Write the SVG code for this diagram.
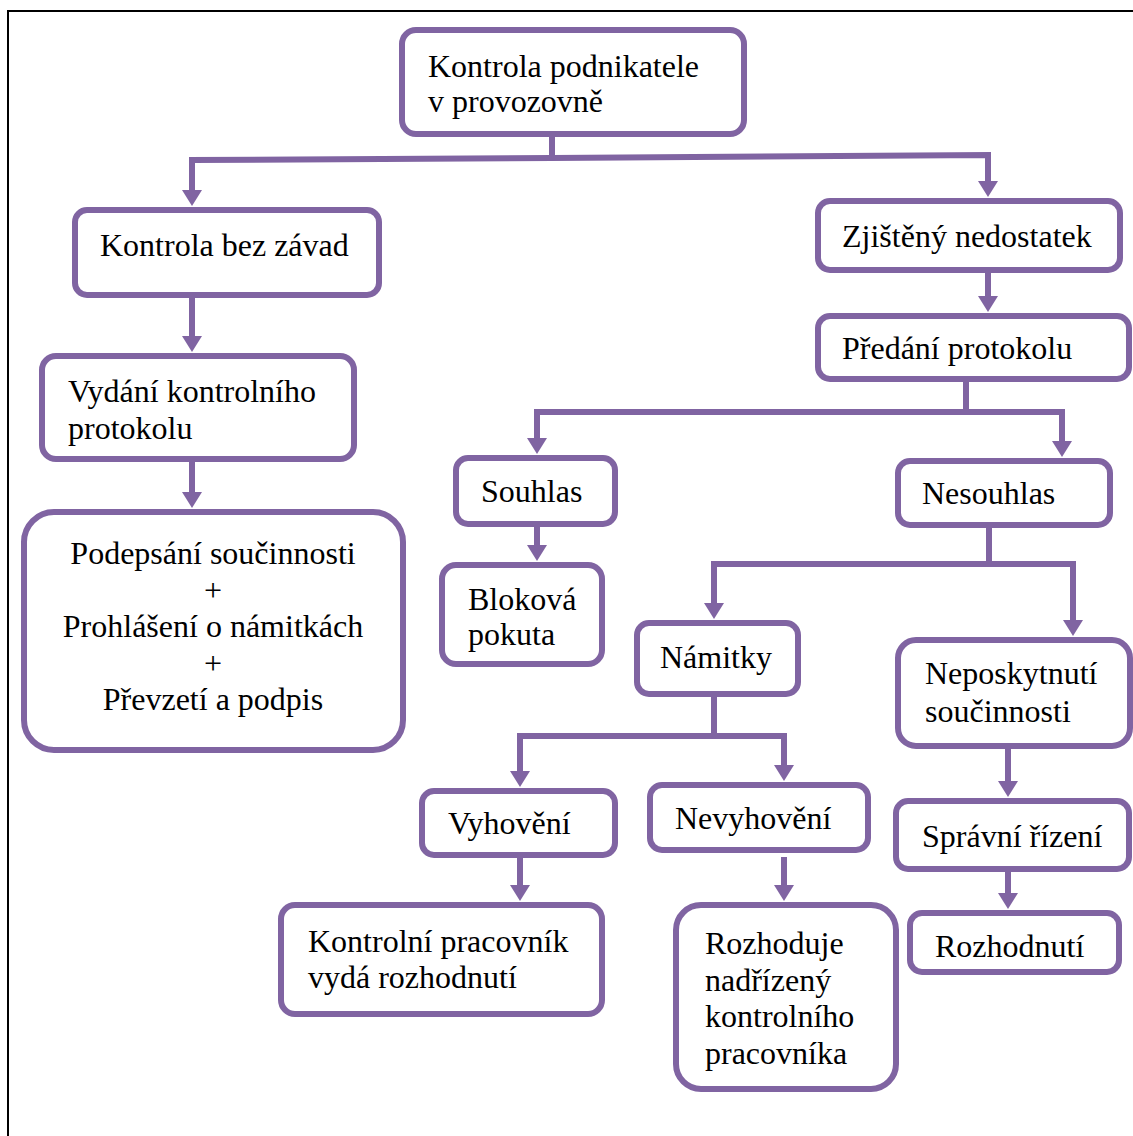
<svg xmlns="http://www.w3.org/2000/svg" width="1133" height="1136" viewBox="0 0 1133 1136">
<style>
.box{fill:#fff;stroke:#8064A2;stroke-width:6}
.t{font-family:"Liberation Serif","Times New Roman",serif;font-size:32px;fill:#000}
.c{fill:none;stroke:#8064A2;stroke-width:6;stroke-linejoin:miter}
.a{marker-end:url(#ah)}
</style>
<defs>
<marker id="ah" markerUnits="userSpaceOnUse" viewBox="0 0 16 20" markerWidth="16" markerHeight="20" refX="1" refY="10" orient="auto" overflow="visible">
<path d="M0,0 L16,10 L0,20 z" fill="#8064A2"/>
</marker>
</defs>
<rect width="1133" height="1136" fill="#fff"/>
<rect x="8" y="11" width="1140" height="1140" fill="none" stroke="#000" stroke-width="2"/>
<g id="connectors">
<path class="c" d="M552,137 V158"/>
<path class="c a" d="M552,158 L192,160 V191"/>
<path class="c a" d="M552,158 L988,155 V182"/>
<path class="c a" d="M192,298 V337"/>
<path class="c a" d="M192,462 V493"/>
<path class="c a" d="M988,273 V297"/>
<path class="c" d="M966,382 V412"/>
<path class="c a" d="M966,412 H537 V439"/>
<path class="c a" d="M966,412 H1062 V442"/>
<path class="c a" d="M537,527 V546"/>
<path class="c" d="M989,528 V564"/>
<path class="c a" d="M989,564 H714 V604"/>
<path class="c a" d="M989,564 H1073 V621"/>
<path class="c" d="M714,697 V736"/>
<path class="c a" d="M714,736 H520 V772"/>
<path class="c a" d="M714,736 H784 V766"/>
<path class="c a" d="M520,858 V886"/>
<path class="c a" d="M784,857 V886"/>
<path class="c a" d="M1008,749 V782"/>
<path class="c a" d="M1008,872 V894"/>
</g>
<g id="n-kontrola-podnikatele">
<rect class="box" x="402" y="30" width="342" height="104" rx="14"/>
<text class="t" x="428" y="77">Kontrola podnikatele</text>
<text class="t" x="428" y="112">v provozovně</text>
</g>
<g id="n-bez-zavad">
<rect class="box" x="75" y="210" width="304" height="85" rx="12"/>
<text class="t" x="100" y="256">Kontrola bez závad</text>
</g>
<g id="n-vydani">
<rect class="box" x="42" y="356" width="312" height="103" rx="14"/>
<text class="t" x="68" y="402">Vydání kontrolního</text>
<text class="t" x="68" y="439">protokolu</text>
</g>
<g id="n-podepsani">
<rect class="box" x="24" y="512" width="379" height="238" rx="30"/>
<text class="t" x="213" y="564" text-anchor="middle">Podepsání součinnosti</text>
<text class="t" x="213" y="601" text-anchor="middle">+</text>
<text class="t" x="213" y="637" text-anchor="middle">Prohlášení o námitkách</text>
<text class="t" x="213" y="674" text-anchor="middle">+</text>
<text class="t" x="213" y="710" text-anchor="middle">Převzetí a podpis</text>
</g>
<g id="n-zjisteny">
<rect class="box" x="818" y="201" width="302" height="69" rx="12"/>
<text class="t" x="842" y="247">Zjištěný nedostatek</text>
</g>
<g id="n-predani">
<rect class="box" x="818" y="316" width="311" height="63" rx="12"/>
<text class="t" x="842" y="359">Předání protokolu</text>
</g>
<g id="n-souhlas">
<rect class="box" x="456" y="458" width="159" height="66" rx="12"/>
<text class="t" x="481" y="502">Souhlas</text>
</g>
<g id="n-blokova">
<rect class="box" x="442" y="565" width="160" height="99" rx="14"/>
<text class="t" x="468" y="610">Bloková</text>
<text class="t" x="468" y="645">pokuta</text>
</g>
<g id="n-nesouhlas">
<rect class="box" x="898" y="461" width="212" height="64" rx="12"/>
<text class="t" x="922" y="504">Nesouhlas</text>
</g>
<g id="n-namitky">
<rect class="box" x="637" y="623" width="161" height="71" rx="12"/>
<text class="t" x="660" y="668">Námitky</text>
</g>
<g id="n-neposkytnuti">
<rect class="box" x="898" y="640" width="232" height="106" rx="18"/>
<text class="t" x="925" y="684">Neposkytnutí</text>
<text class="t" x="925" y="722">součinnosti</text>
</g>
<g id="n-vyhoveni">
<rect class="box" x="422" y="791" width="193" height="64" rx="12"/>
<text class="t" x="448" y="834">Vyhovění</text>
</g>
<g id="n-nevyhoveni">
<rect class="box" x="650" y="785" width="218" height="65" rx="12"/>
<text class="t" x="675" y="829">Nevyhovění</text>
</g>
<g id="n-kontrolni-pracovnik">
<rect class="box" x="281" y="905" width="321" height="109" rx="14"/>
<text class="t" x="308" y="952">Kontrolní pracovník</text>
<text class="t" x="308" y="988">vydá rozhodnutí</text>
</g>
<g id="n-rozhoduje">
<rect class="box" x="676" y="905" width="220" height="184" rx="25"/>
<text class="t" x="705" y="954">Rozhoduje</text>
<text class="t" x="705" y="991">nadřízený</text>
<text class="t" x="705" y="1027">kontrolního</text>
<text class="t" x="705" y="1064">pracovníka</text>
</g>
<g id="n-spravni">
<rect class="box" x="896" y="801" width="233" height="68" rx="12"/>
<text class="t" x="922" y="847">Správní řízení</text>
</g>
<g id="n-rozhodnuti">
<rect class="box" x="910" y="913" width="209" height="59" rx="12"/>
<text class="t" x="935" y="957">Rozhodnutí</text>
</g>
</svg>
